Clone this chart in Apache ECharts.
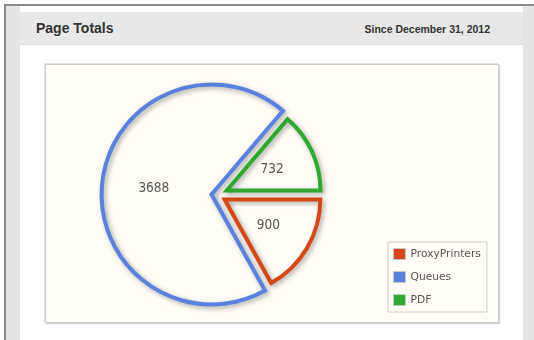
<!DOCTYPE html>
<html>
<head>
<meta charset="utf-8">
<script src="https://cdn.jsdelivr.net/npm/echarts@6/dist/echarts.min.js"></script>
<style>
  html, body { margin: 0; padding: 0; width: 534px; height: 340px; overflow: hidden; background: #fff; }
  #frame { position: absolute; left: 4px; top: 4px; width: 530px; height: 336px;
           border-left: 2px solid #8a8a8a; border-top: 2px solid #8a8a8a; box-sizing: border-box; background: #e4e4e4; }
  #panel { position: absolute; left: 20px; top: 6px; width: 503px; height: 334px; background: #fff; }
  #header { position: absolute; left: 20px; top: 12px; width: 503px; height: 33px; background: #e8e8e8;
            border-bottom: 1px solid #dedede; box-sizing: border-box; }
  #title { position: absolute; left: 16px; top: 8px; font: bold 14px "Liberation Sans", Arial, sans-serif; color: #333; }
  #since { position: absolute; right: 33px; top: 11px; font: bold 10.5px "Liberation Sans", Arial, sans-serif; color: #333; }
  #box { position: absolute; left: 45px; top: 64px; width: 454px; height: 259px; background: #fffdf6;
         border: 1px solid #cfcfcf; box-shadow: 1px 1px 1px #d6d6d6, -1px -1px 0 #e2e2e2; box-sizing: border-box; }
  #chart { position: absolute; left: 0; top: 0; width: 452px; height: 257px; }
</style>
</head>
<body>
<div id="frame"></div>
<div id="panel"></div>
<div id="header"><div id="title">Page Totals</div><div id="since">Since December 31, 2012</div></div>
<div id="box"><div id="chart"></div></div>
<script>
// Page counts by source
const categories = ['ProxyPrinters', 'Queues', 'PDF'];
const pageCounts = [900, 3688, 732];
const sliceColors = ['#d4491a', '#5b80de', '#2fa82f'];

const chart = echarts.init(document.getElementById('chart'), null, { renderer: 'canvas' });

// Pie geometry: each slice is pushed out along its bisector by a margin
// that depends on the slice angle, and its radius is adjusted accordingly.
const center = [171, 130];
const baseRadius = 104.5;
const halfMargin = 4.5;
const lineW = 4;

const total = pageCounts.reduce((a, b) => a + b, 0);
let cum = 0;
const series = pageCounts.map((v, i) => {
  const a1 = cum / total * 2 * Math.PI;
  cum += v;
  const a2 = cum / total * 2 * Math.PI;
  const ang = a2 - a1;
  const mid = (a1 + a2) / 2;
  const shift = halfMargin / Math.sin(ang / 2);
  const r = ang <= Math.PI ? baseRadius - shift : baseRadius + shift;
  const cx = center[0] + shift * Math.cos(mid);
  const cy = center[1] + shift * Math.sin(mid);
  return {
    type: 'pie',
    name: categories[i],
    startAngle: 0,
    clockwise: true,
    center: [cx, cy],
    radius: [0, r],
    silent: true,
    animation: false,
    emphasis: { disabled: true },
    labelLine: { show: false },
    data: categories.map((name, j) => ({
      name: name,
      value: pageCounts[j],
      itemStyle: j === i ? {
        color: 'rgba(0,0,0,0)',
        borderColor: sliceColors[j],
        borderWidth: lineW,
        borderJoin: 'miter',
        shadowColor: 'rgba(0,0,0,0.34)',
        shadowBlur: 5,
        shadowOffsetX: 2,
        shadowOffsetY: 2
      } : { color: 'rgba(0,0,0,0)', borderWidth: 0 },
      label: j === i ? {
        show: true,
        position: 'inside',
        formatter: '{c}',
        fontFamily: 'DejaVu Sans Condensed, DejaVu Sans',
        fontSize: 13.5,
        color: '#555'
      } : { show: false }
    }))
  };
});

chart.setOption({
  backgroundColor: 'transparent',
  legend: {
    orient: 'vertical',
    left: 342,
    top: 177,
    padding: [6, 6, 6, 5],
    itemGap: 11,
    itemWidth: 12,
    itemHeight: 11,
    itemTextGap: 6,
    icon: 'rect',
    backgroundColor: '#fffdf6',
    borderColor: '#cccccc',
    borderWidth: 1,
    selectedMode: false,
    textStyle: { fontFamily: 'DejaVu Sans', fontSize: 10.7, color: '#555' },
    data: categories.map((name, i) => ({
      name: name,
      itemStyle: { color: sliceColors[i], borderColor: '#c8c8c8', borderWidth: 1, shadowBlur: 0, shadowOffsetX: 0, shadowOffsetY: 0 }
    }))
  },
  series: series
});
</script>
</body>
</html>
